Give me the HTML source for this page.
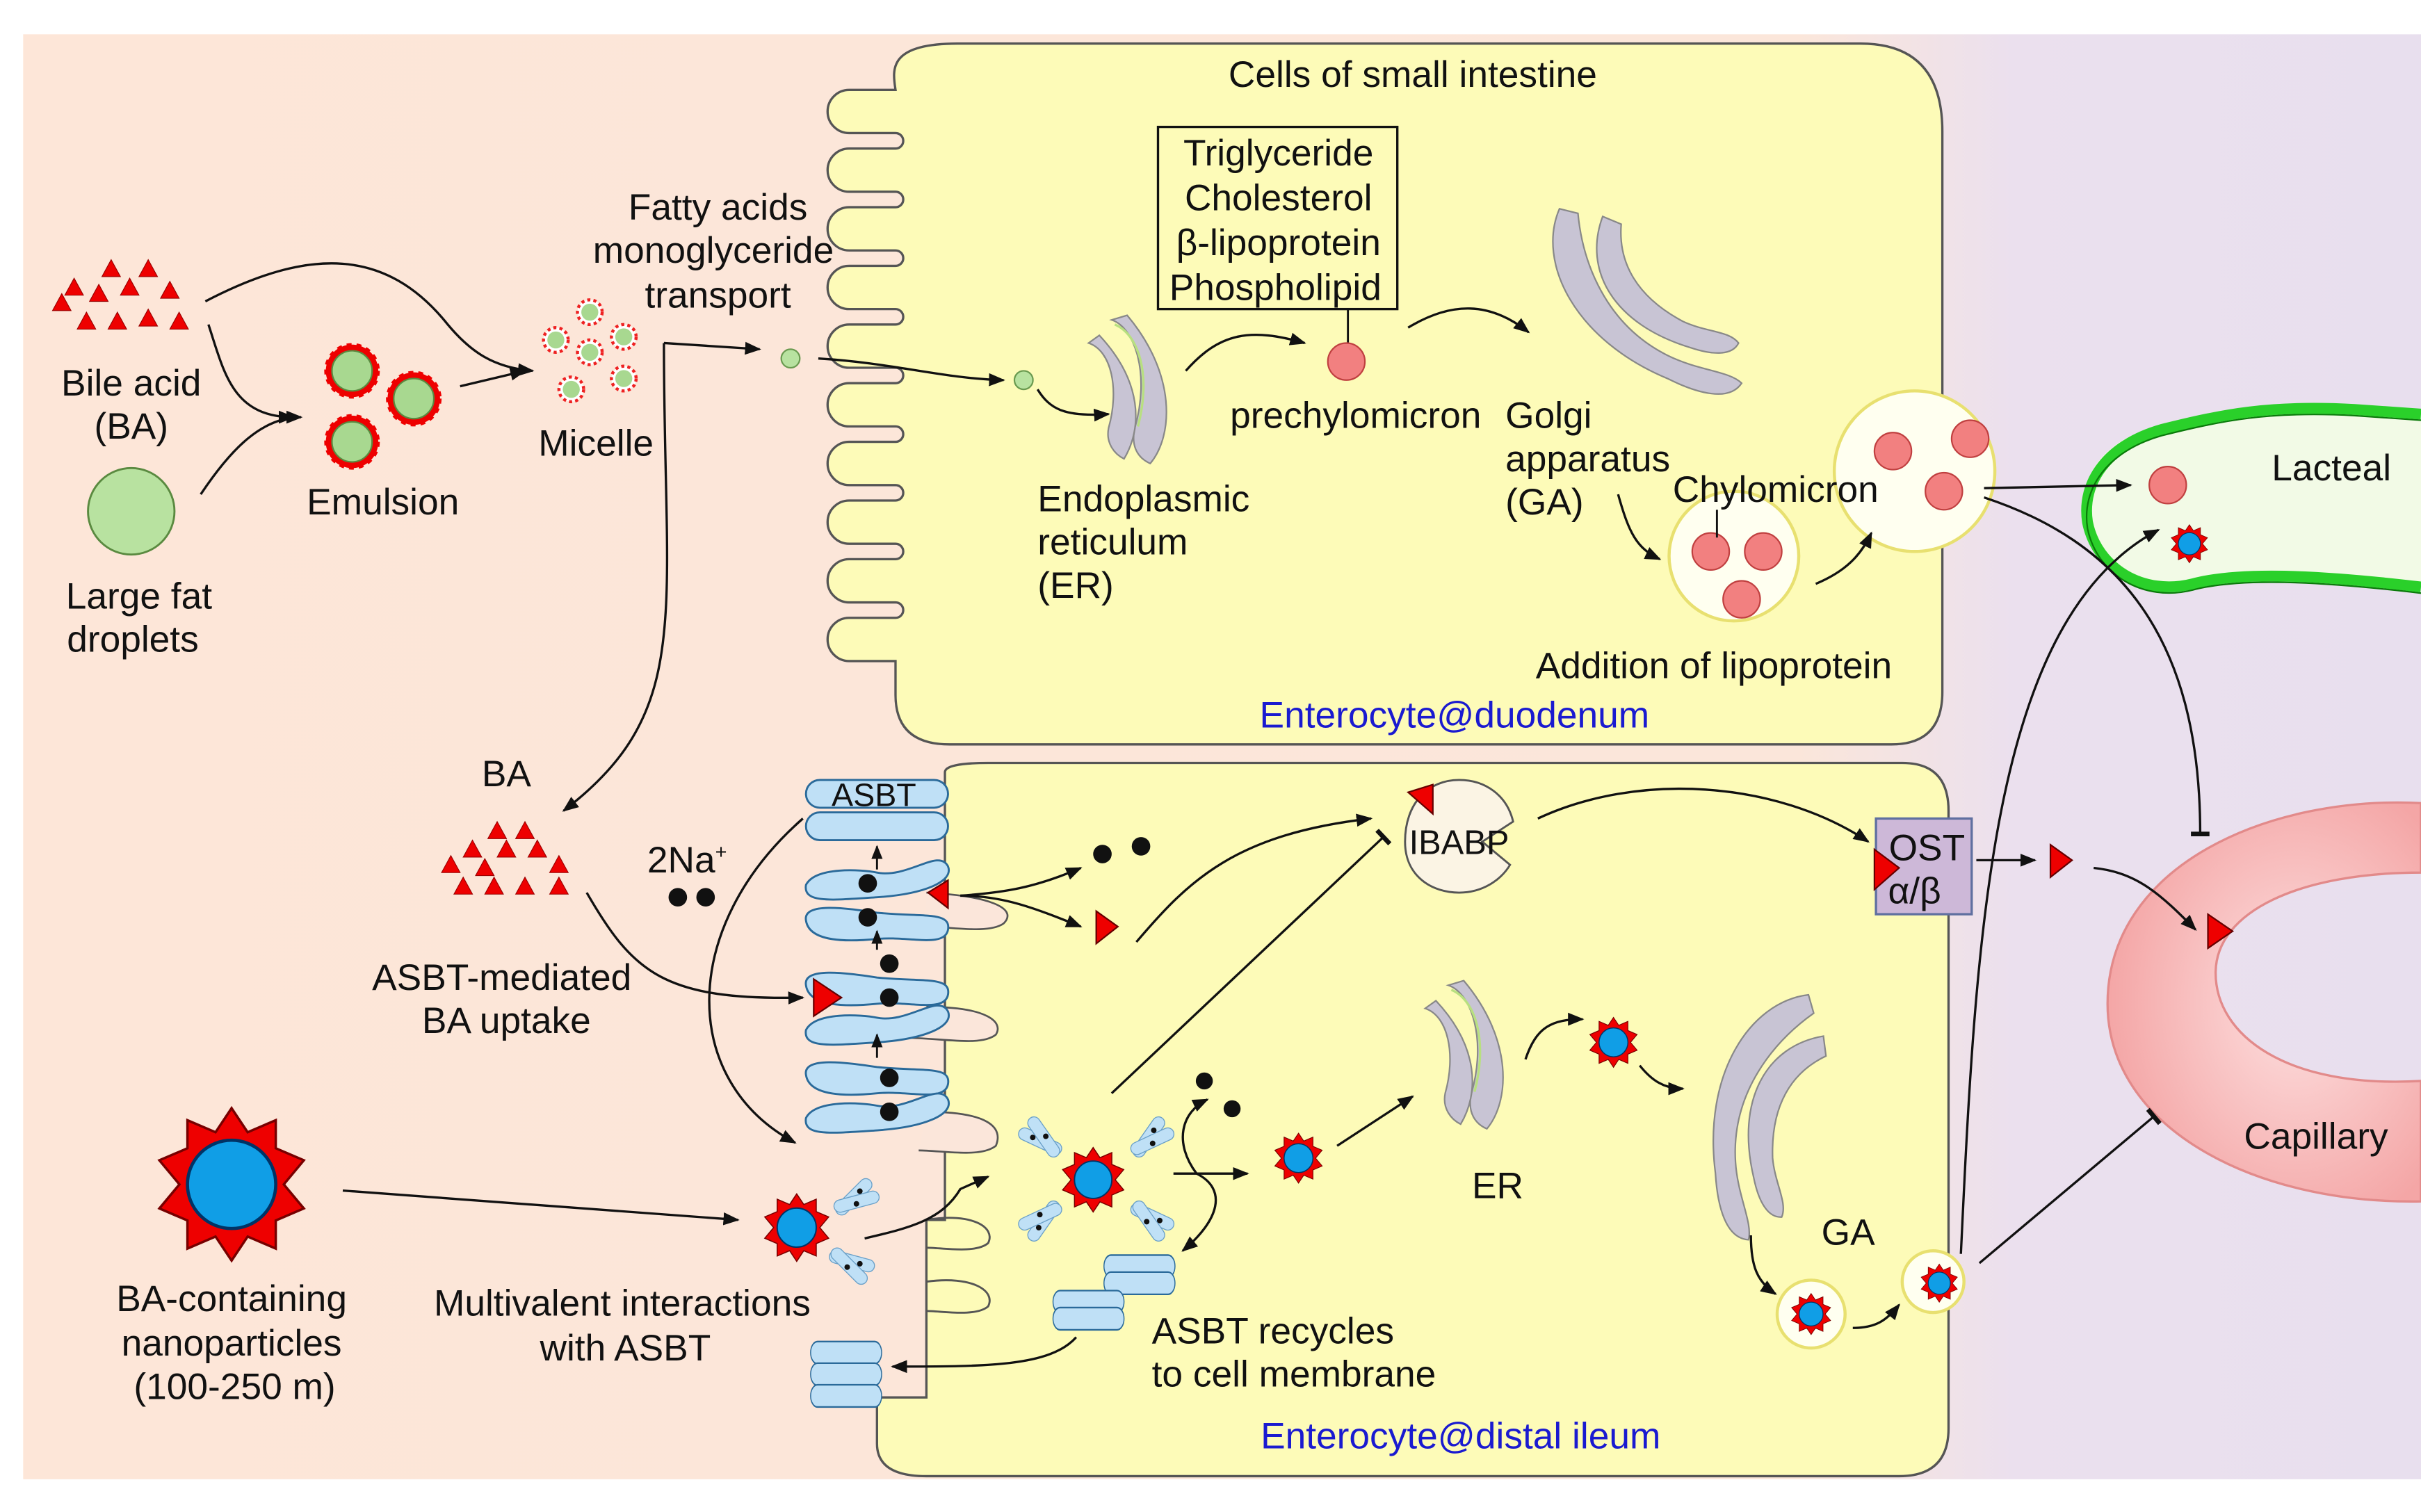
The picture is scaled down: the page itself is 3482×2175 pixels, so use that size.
<!DOCTYPE html>
<html><head><meta charset="utf-8">
<style>
html,body{margin:0;padding:0;background:#fff;}
svg{display:block;}
text{font-family:"Liberation Sans",sans-serif;font-size:24px;fill:#111;}
.c{text-anchor:middle;}
.b{fill:#1a1ad0;}
</style></head><body>
<svg width="3482" height="2175" viewBox="0 0 1568 979" xmlns="http://www.w3.org/2000/svg">
<defs>
<linearGradient id="bg" x1="0" x2="1" y1="0" y2="0">
<stop offset="0" stop-color="#fde6d8"/><stop offset="0.74" stop-color="#fbe6da"/><stop offset="0.83" stop-color="#ebe0ee"/><stop offset="1" stop-color="#e8dfee"/>
</linearGradient>
<radialGradient id="cap" cx="0.6" cy="0.5" r="0.6"><stop offset="0" stop-color="#fde0e0"/><stop offset="1" stop-color="#f4a6a6"/></radialGradient>
<marker id="a" viewBox="0 0 10 10" refX="9" refY="5" markerWidth="7" markerHeight="7" orient="auto"><path d="M0,1 L10,5 L0,9 z" fill="#111"/></marker>
<marker id="t" viewBox="0 0 10 10" refX="5" refY="5" markerWidth="8" markerHeight="8" orient="auto"><path d="M5,0 L5,10" stroke="#111" stroke-width="2.5"/></marker>
<g id="tri"><path d="M-6,5 L0,-6 L6,5 z" fill="#e00" stroke="#900" stroke-width="0.5"/></g>
<g id="em"><circle r="17" fill="#e00"/><circle r="16" fill="none" stroke="#e00" stroke-width="4" stroke-dasharray="3 3"/><circle r="13" fill="#a8d890" stroke="#5a8a40"/></g>
<g id="mi"><circle r="8" fill="#fff" stroke="#e22" stroke-width="2" stroke-dasharray="2 2"/><circle r="5.5" fill="#a8d890"/></g>
<g id="np"><polygon points="0,-19 4,-13 11,-16 11,-9 18,-6 13,0 18,6 11,9 11,16 4,13 0,19 -4,13 -11,16 -11,9 -18,6 -13,0 -18,-6 -11,-9 -11,-16 -4,-13" fill="#e00" stroke="#700" stroke-width="0.6"/><circle r="11" fill="#109ee6" stroke="#036" stroke-width="0.8"/></g>
<g id="pk"><circle r="12" fill="#f28080" stroke="#c04040"/></g>
<g id="er"><path d="M-20,-45 C-5,-40 5,-10 -5,25 C-8,38 -2,45 5,48 C20,30 22,-10 -10,-48 Z" fill="#c8c4d4" stroke="#888" stroke-width="1"/><path d="M-35,-30 C-20,-25 -15,0 -22,25 C-24,35 -18,42 -12,45 C0,25 0,-5 -28,-35 Z" fill="#c8c4d4" stroke="#888"/><path d="M-18,-42 C-3,-36 6,-10 -3,24" fill="none" stroke="#b8e080" stroke-width="1.5"/></g>
<g id="ga"><path d="M-50,-65 C-65,-30 -40,20 20,45 C40,55 60,60 68,48 C60,40 40,40 20,30 C-20,10 -35,-30 -38,-62 Z" fill="#c8c4d4" stroke="#888"/><path d="M-22,-60 C-35,-25 -15,10 35,25 C50,30 62,30 66,22 C60,14 45,15 30,8 C0,-8 -12,-30 -10,-55 Z" fill="#c8c4d4" stroke="#888"/></g>
<g id="as"><rect x="-46" y="-9" width="92" height="18" rx="9" fill="#bfe0f6" stroke="#2a6a9a" stroke-width="1.3"/></g>
<g id="asbtb"><path d="M-46,2 C-40,-10 -10,-8 0,-6 C20,-2 40,-22 46,-10 C50,0 30,8 0,10 C-30,12 -48,14 -46,2 Z" fill="#bfe0f6" stroke="#2a6a9a" stroke-width="1.3"/></g>
<g id="asbtc"><path d="M-46,-4 C-48,-16 -20,-12 0,-9 C30,-6 48,-10 46,2 C44,14 20,6 0,8 C-20,10 -44,10 -46,-4 Z" fill="#bfe0f6" stroke="#2a6a9a" stroke-width="1.3"/></g>
<g id="y"><rect x="-4" y="-22" width="8" height="30" rx="4" fill="#bfe0f6" stroke="#6aa0c8" stroke-width="0.6" transform="rotate(-15)"/><rect x="-4" y="-22" width="8" height="30" rx="4" fill="#bfe0f6" stroke="#6aa0c8" stroke-width="0.6" transform="rotate(15)"/><circle cx="-3" cy="-12" r="1.8" fill="#111"/><circle cx="3" cy="-6" r="1.8" fill="#111"/></g>
</defs>

<rect x="0" y="0" width="1568" height="979" fill="#fff"/>
<rect x="15" y="22" width="1553" height="936" fill="url(#bg)"/>

<!-- top cell -->
<path d="M620,28 C575,28 578,45 580,58
h-30 a14 14 0 0 0 0 28 h30 a5 5 0 0 1 0 10
h-30 a14 14 0 0 0 0 28 h30 a5 5 0 0 1 0 10
h-30 a14 14 0 0 0 0 28 h30 a5 5 0 0 1 0 10
h-30 a14 14 0 0 0 0 28 h30 a5 5 0 0 1 0 10
h-30 a14 14 0 0 0 0 28 h30 a5 5 0 0 1 0 10
h-30 a14 14 0 0 0 0 28 h30 a5 5 0 0 1 0 10
h-30 a14 14 0 0 0 0 28 h30 a5 5 0 0 1 0 10
h-30 a14 14 0 0 0 0 28 h30 a5 5 0 0 1 0 10
h-30 a14 14 0 0 0 0 28 h30 a5 5 0 0 1 0 10
h-30 a14 14 0 0 0 0 28 h30
L580,450 Q580,482 615,482 L1225,482 Q1258,482 1258,448 L1258,85 Q1258,28 1205,28 Z" fill="#fdfbb8" stroke="#555" stroke-width="1.5"/>

<!-- bottom cell -->
<path d="M640,494 L1232,494 Q1262,494 1262,525 L1262,925 Q1262,956 1230,956 L600,956 Q568,956 568,935
L568,905 L600,905 L600,790 L612,790 L612,500 Q612,494 640,494 Z" fill="#fdfbb8" stroke="#555" stroke-width="1.5"/>
<path d="M600,790 C630,785 645,795 640,805 C632,812 610,808 600,808 M600,830 C630,826 645,836 640,846 C632,853 610,849 600,849" fill="none" stroke="#555" stroke-width="1.3"/>
<!-- peach loops between ASBT -->
<path d="M600,578 C640,580 660,588 650,598 C640,605 615,600 600,600" fill="#fbe6da" stroke="#555" stroke-width="1.2"/>
<path d="M600,652 C640,652 650,662 645,670 C635,678 610,672 585,672" fill="#fbe6da" stroke="#555" stroke-width="1.2"/>
<path d="M600,720 C640,720 650,730 645,742 C635,750 610,745 595,745" fill="#fbe6da" stroke="#555" stroke-width="1.2"/>

<!-- ASBT stack -->
<use href="#as" x="568" y="514"/><text x="566" y="522" class="c" style="font-size:21px">ASBT</text>
<use href="#as" x="568" y="535"/>
<use href="#asbtb" x="568" y="571"/><use href="#asbtc" x="568" y="600"/>
<use href="#asbtc" x="568" y="642"/><use href="#asbtb" x="568" y="665"/>
<use href="#asbtc" x="568" y="700"/><use href="#asbtb" x="568" y="722"/>
<g fill="#111"><circle cx="562" cy="572" r="6"/><circle cx="562" cy="594" r="6"/><circle cx="576" cy="624" r="6"/><circle cx="576" cy="646" r="6"/><circle cx="576" cy="698" r="6"/><circle cx="576" cy="720" r="6"/></g>
<g stroke="#111" stroke-width="1.3" marker-end="url(#a)"><line x1="568" y1="563" x2="568" y2="548"/><line x1="568" y1="615" x2="568" y2="603"/><line x1="568" y1="685" x2="568" y2="670"/></g>
<path d="M601,578 L614,570 L614,588 z" fill="#e00" stroke="#600"/>
<path d="M527,634 L545,646 L527,658 z" fill="#e00" stroke="#600"/>
<!-- recycled ASBT -->
<g transform="translate(548,876) scale(0.5,0.8)"><use href="#as"/></g>
<g transform="translate(548,890) scale(0.5,0.8)"><use href="#as"/></g>
<g transform="translate(548,904) scale(0.5,0.8)"><use href="#as"/></g>
<g transform="translate(738,820) scale(0.5,0.8)"><use href="#as"/></g>
<g transform="translate(738,831) scale(0.5,0.8)"><use href="#as"/></g>
<g transform="translate(705,843) scale(0.5,0.8)"><use href="#as"/></g>
<g transform="translate(705,854) scale(0.5,0.8)"><use href="#as"/></g>

<!-- capillary -->
<path d="M1568,520 C1470,515 1365,560 1365,650 C1365,730 1460,780 1568,778 L1568,700 C1480,705 1435,670 1435,630 C1435,590 1490,565 1568,565 Z" fill="url(#cap)" stroke="#e28a8a" stroke-width="1.5"/>
<!-- lacteal -->
<path d="M1568,268 L1520,265 C1470,262 1440,265 1400,275 C1360,285 1345,310 1350,340 C1355,370 1390,390 1420,380 C1450,372 1500,372 1568,378 Z" fill="#f2fae6"/>
<path d="M1568,268 L1525,265 C1470,262 1440,268 1400,278 C1365,288 1348,312 1352,338 C1358,368 1388,386 1420,378 C1450,370 1500,372 1568,380" fill="none" stroke="#2ad02a" stroke-width="7"/>
<path d="M1568,268 L1525,265 C1470,262 1440,268 1400,278 C1365,288 1348,312 1352,338 C1358,368 1388,386 1420,378 C1450,370 1500,372 1568,380" fill="none" stroke="#0a7a0a" stroke-width="1" transform="translate(0,4)"/>

<!-- texts top -->
<text x="915" y="56" class="c">Cells of small intestine</text>
<rect x="750" y="82" width="155" height="118" fill="none" stroke="#111" stroke-width="1.5"/>
<text x="828" y="107" class="c">Triglyceride</text>
<text x="828" y="136" class="c">Cholesterol</text>
<text x="828" y="165" class="c">β-lipoprotein</text>
<text x="826" y="194" class="c">Phospholipid</text>
<line x1="873" y1="200" x2="873" y2="222" stroke="#111" stroke-width="1.3"/>
<use href="#pk" x="872" y="234"/>
<text x="878" y="277" class="c">prechylomicron</text>
<text x="975" y="277">Golgi</text><text x="975" y="305">apparatus</text><text x="975" y="333">(GA)</text>
<text x="672" y="331">Endoplasmic</text><text x="672" y="359">reticulum</text><text x="672" y="387">(ER)</text>
<text x="465" y="142" class="c">Fatty acids</text><text x="462" y="170" class="c">monoglyceride</text><text x="465" y="199" class="c">transport</text>
<text x="85" y="256" class="c">Bile acid</text><text x="85" y="284" class="c">(BA)</text>
<text x="90" y="394" class="c">Large fat</text><text x="86" y="422" class="c">droplets</text>
<text x="248" y="333" class="c">Emulsion</text>
<text x="386" y="295" class="c">Micelle</text>
<text x="1110" y="439" class="c">Addition of lipoprotein</text>
<text x="942" y="471" class="c b">Enterocyte@duodenum</text>

<use href="#er" x="740" y="252"/>
<use href="#ga" x="1060" y="200"/>

<circle cx="1123" cy="360" r="42" fill="#fffff0" stroke="#e8e070" stroke-width="2"/>
<use href="#pk" x="1108" y="357"/><use href="#pk" x="1142" y="357"/><use href="#pk" x="1128" y="388"/>
<circle cx="1240" cy="305" r="52" fill="#fffff0" stroke="#e8e070" stroke-width="2"/>
<use href="#pk" x="1226" y="292"/><use href="#pk" x="1276" y="284"/><use href="#pk" x="1259" y="318"/>
<text x="1150" y="325" class="c">Chylomicron</text>
<line x1="1112" y1="330" x2="1112" y2="348" stroke="#111" stroke-width="1.3"/>
<use href="#pk" x="1404" y="314"/>
<g transform="translate(1418,352) scale(0.65)"><use href="#np"/></g>
<text x="1510" y="311" class="c">Lacteal</text>
<text x="1500" y="744" class="c">Capillary</text>

<g>
<use href="#tri" x="72" y="174"/><use href="#tri" x="96" y="174"/>
<use href="#tri" x="48" y="186"/><use href="#tri" x="64" y="190"/><use href="#tri" x="84" y="186"/><use href="#tri" x="110" y="188"/><use href="#tri" x="40" y="196"/>
<use href="#tri" x="56" y="208"/><use href="#tri" x="76" y="208"/><use href="#tri" x="96" y="206"/><use href="#tri" x="116" y="208"/>
</g>
<circle cx="85" cy="331" r="28" fill="#b8e2a0" stroke="#5a8a40" stroke-width="1.3"/>
<use href="#em" x="228" y="240"/><use href="#em" x="268" y="258"/><use href="#em" x="228" y="286"/>
<use href="#mi" x="382" y="202"/><use href="#mi" x="360" y="220"/><use href="#mi" x="404" y="218"/><use href="#mi" x="382" y="228"/><use href="#mi" x="370" y="252"/><use href="#mi" x="404" y="245"/>
<circle cx="512" cy="232" r="6" fill="#b8e2a0" stroke="#6a9a50"/>
<circle cx="663" cy="246" r="6" fill="#b8e2a0" stroke="#6a9a50"/>

<g fill="none" stroke="#111" stroke-width="1.5">
<path d="M133,195 C200,160 250,160 290,210 C305,228 320,238 345,240" marker-end="url(#a)"/>
<path d="M135,210 C145,240 150,270 190,270" marker-end="url(#a)"/>
<path d="M130,320 C150,290 170,270 195,270" marker-end="url(#a)"/>
<path d="M298,250 L340,240" marker-end="url(#a)"/>
<path d="M430,222 L492,226" marker-end="url(#a)"/>
<path d="M430,222 C430,400 450,460 365,525" marker-end="url(#a)"/>
<path d="M530,232 C580,235 610,245 650,246" marker-end="url(#a)"/>
<path d="M672,252 C680,265 690,270 718,268" marker-end="url(#a)"/>
<path d="M768,240 C790,215 810,212 845,222" marker-end="url(#a)"/>
<path d="M912,212 C940,195 965,195 990,215" marker-end="url(#a)"/>
<path d="M1048,320 C1055,345 1060,355 1075,362" marker-end="url(#a)"/>
<path d="M1176,378 C1195,370 1205,360 1212,345" marker-end="url(#a)"/>
<path d="M1285,316 L1380,314" marker-end="url(#a)"/>
<path d="M1285,322 C1370,350 1425,410 1425,540" marker-end="url(#t)"/>
</g>

<text x="328" y="509" class="c">BA</text>
<g>
<use href="#tri" x="322" y="538"/><use href="#tri" x="340" y="538"/>
<use href="#tri" x="306" y="550"/><use href="#tri" x="328" y="550"/><use href="#tri" x="348" y="550"/>
<use href="#tri" x="292" y="560"/><use href="#tri" x="314" y="562"/><use href="#tri" x="362" y="560"/>
<use href="#tri" x="300" y="574"/><use href="#tri" x="320" y="574"/><use href="#tri" x="340" y="574"/><use href="#tri" x="362" y="574"/>
</g>
<text x="445" y="565" class="c">2Na<tspan dy="-9" style="font-size:13px">+</tspan></text>
<circle cx="439" cy="581" r="6" fill="#111"/><circle cx="457" cy="581" r="6" fill="#111"/>
<text x="325" y="641" class="c">ASBT-mediated</text><text x="328" y="669" class="c">BA uptake</text>
<g transform="translate(150,767) scale(2.6)"><use href="#np"/></g>
<text x="150" y="849" class="c">BA-containing</text><text x="150" y="878" class="c">nanoparticles</text><text x="152" y="906" class="c">(100-250 m)</text>
<text x="403" y="852" class="c">Multivalent interactions</text><text x="405" y="881" class="c">with ASBT</text>
<text x="746" y="870">ASBT recycles</text><text x="746" y="898">to cell membrane</text>
<text x="946" y="938" class="c b">Enterocyte@distal ileum</text>
<text x="970" y="776" class="c">ER</text>
<text x="1197" y="806" class="c">GA</text>

<use href="#y" x="548" y="780" transform="rotate(60,548,780)"/>
<use href="#y" x="545" y="815" transform="rotate(120,545,815)"/>
<g transform="translate(516,795) scale(1.15)"><use href="#np"/></g>
<use href="#y" x="680" y="742" transform="rotate(-50,680,742)"/>
<use href="#y" x="740" y="742" transform="rotate(50,740,742)"/>
<use href="#y" x="680" y="785" transform="rotate(-130,680,785)"/>
<use href="#y" x="740" y="785" transform="rotate(130,740,785)"/>
<g transform="translate(708,764) scale(1.1)"><use href="#np"/></g>
<circle cx="780" cy="700" r="5.5" fill="#111"/><circle cx="798" cy="718" r="5.5" fill="#111"/>
<g transform="translate(841,750) scale(0.85)"><use href="#np"/></g>
<g transform="translate(1045,675) scale(0.85)"><use href="#np"/></g>
<use href="#er" x="958" y="683"/>
<g transform="translate(1140,720) rotate(60)"><use href="#ga"/></g>
<circle cx="1173" cy="851" r="22" fill="#fffff0" stroke="#e8e070" stroke-width="2"/>
<g transform="translate(1173,851) scale(0.7)"><use href="#np"/></g>
<circle cx="1252" cy="830" r="20" fill="#fffff0" stroke="#e8e070" stroke-width="2"/>
<g transform="translate(1256,831) scale(0.65)"><use href="#np"/></g>

<path d="M945,505 C925,505 910,520 910,545 C910,568 928,578 945,578 C960,578 972,570 978,560 L960,545 L980,532 C976,515 962,505 945,505 Z" fill="#fbf4e4" stroke="#555" stroke-width="1.3"/>
<text x="945" y="553" class="c" style="font-size:22px">IBABP</text>
<path d="M912,513 L928,508 L928,527 z" fill="#e00" stroke="#600"/>
<rect x="1215" y="530" width="62" height="62" fill="#cdb8d8" stroke="#6070a0" stroke-width="1.5"/>
<text x="1248" y="557" class="c">OST</text><text x="1240" y="585" class="c">α/β</text>
<path d="M1214,550 L1230,562 L1214,576 z" fill="#e00" stroke="#600"/>
<path d="M1328,547 L1342,557 L1328,568 z" fill="#e00" stroke="#600"/>
<path d="M1430,592 L1446,603 L1430,614 z" fill="#e00" stroke="#600"/>
<path d="M710,590 L724,600 L710,611 z" fill="#e00" stroke="#600"/>
<circle cx="714" cy="553" r="6" fill="#111"/><circle cx="739" cy="548" r="6" fill="#111"/>

<g fill="none" stroke="#111" stroke-width="1.5">
<path d="M380,578 C410,630 430,648 520,646" marker-end="url(#a)"/>
<path d="M520,530 C440,600 440,700 515,740" marker-end="url(#a)"/>
<path d="M622,580 C650,578 670,575 700,562" marker-end="url(#a)"/>
<path d="M622,580 C650,580 670,588 700,600" marker-end="url(#a)"/>
<path d="M736,610 C770,570 800,540 888,530" marker-end="url(#a)"/>
<path d="M720,708 L896,542" marker-end="url(#t)"/>
<path d="M996,530 C1060,500 1150,505 1210,545" marker-end="url(#a)"/>
<path d="M1280,557 L1318,557" marker-end="url(#a)"/>
<path d="M1356,562 C1385,565 1400,580 1422,602" marker-end="url(#a)"/>
<path d="M222,771 L478,790" marker-end="url(#a)"/>
<path d="M560,802 C590,795 610,790 622,770 L640,762" marker-end="url(#a)"/>
<path d="M760,760 L808,760" marker-end="url(#a)"/>
<path d="M775,760 C760,740 765,720 782,712" marker-end="url(#a)"/>
<path d="M775,760 C795,770 790,790 766,810" marker-end="url(#a)"/>
<path d="M866,742 L915,710" marker-end="url(#a)"/>
<path d="M988,686 C995,665 1005,660 1025,660" marker-end="url(#a)"/>
<path d="M1062,690 C1070,700 1078,705 1090,705" marker-end="url(#a)"/>
<path d="M1134,800 C1134,820 1138,830 1150,838" marker-end="url(#a)"/>
<path d="M1200,860 C1215,860 1222,855 1230,845" marker-end="url(#a)"/>
<path d="M697,866 C680,885 640,885 578,885" marker-end="url(#a)"/>
<path d="M1270,812 C1280,600 1290,400 1398,343" marker-end="url(#a)"/>
<path d="M1282,818 L1395,723" marker-end="url(#t)"/>
</g>
</svg>
</body></html>
